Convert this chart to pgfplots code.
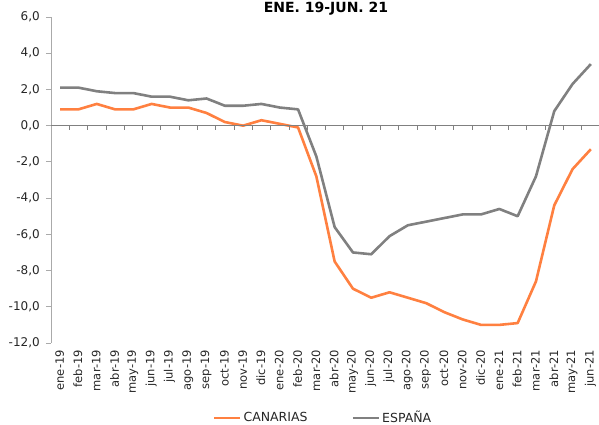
\documentclass[border=0pt]{standalone}
\usepackage{fontspec}
\setmainfont{DejaVu Sans}
\usepackage{pgfplots}
\pgfplotsset{compat=1.18}
\definecolor{canorange}{RGB}{255,128,64}
\definecolor{espgray}{RGB}{128,128,128}
\definecolor{axgray}{RGB}{170,170,170}
\begin{document}
\begin{tikzpicture}
\begin{axis}[
  at={(0pt,0pt)}, anchor=south west,
  scale only axis, width=549pt, height=326pt,
  xmin=-0.5, xmax=29.5, ymin=-12, ymax=6,
  axis x line=none,
  axis y line*=left,
  y axis line style={draw=axgray, line width=0.8pt},
  ytick={-12,-10,...,6},
  yticklabels={{-12,0},{-10,0},{-8,0},{-6,0},{-4,0},{-2,0},{0,0},{2,0},{4,0},{6,0}},
  ytick style={draw=axgray, line width=0.8pt},
  tick align=outside,
  major tick length=5pt,
  yticklabel style={font=\fontsize{12}{14}\selectfont, text=black!85, anchor=east, inner sep=0pt, xshift=-6pt},
  legend style={at={(axis description cs:0.295,-0.2295)}, anchor=west, draw=none, fill=none,
    inner sep=0pt, outer sep=0pt,
    font=\fontsize{12.5}{14}\selectfont, text=black!85, legend columns=2,
    nodes={inner xsep=2pt, inner ysep=0pt},
    /tikz/every even column/.append style={column sep=42pt}},
  legend image code/.code={\draw[#1] (0pt,0pt) -- (26pt,0pt);},
  clip=false,
]
\addplot[canorange, line width=2.6pt, line join=round] coordinates {
(0,0.9) (1,0.9) (2,1.2) (3,0.9) (4,0.9) (5,1.2) (6,1.0) (7,1.0) (8,0.7) (9,0.2)
(10,0.0) (11,0.3) (12,0.1) (13,-0.1) (14,-2.8) (15,-7.5) (16,-9.0) (17,-9.5) (18,-9.2) (19,-9.5)
(20,-9.8) (21,-10.3) (22,-10.7) (23,-11.0) (24,-11.0) (25,-10.9) (26,-8.6) (27,-4.4) (28,-2.4) (29,-1.3)};
\addlegendentry{CANARIAS}
\addplot[espgray, line width=2.6pt, line join=round] coordinates {
(0,2.1) (1,2.1) (2,1.9) (3,1.8) (4,1.8) (5,1.6) (6,1.6) (7,1.4) (8,1.5) (9,1.1)
(10,1.1) (11,1.2) (12,1.0) (13,0.9) (14,-1.7) (15,-5.6) (16,-7.0) (17,-7.1) (18,-6.1) (19,-5.5)
(20,-5.3) (21,-5.1) (22,-4.9) (23,-4.9) (24,-4.6) (25,-5.0) (26,-2.8) (27,0.8) (28,2.3) (29,3.4)};
\addlegendentry{ESPAÑA}
\end{axis}
% zero axis with tick marks between categories
\begin{axis}[
  at={(0pt,0pt)}, anchor=south west,
  scale only axis, width=549pt, height=326pt,
  xmin=-0.5, xmax=29.5, ymin=-12, ymax=6,
  axis y line=none,
  axis x line*=middle,
  x axis line style={draw=espgray, line width=0.8pt, -},
  xtick={0.5,1.5,...,28.5},
  xticklabels={},
  xtick style={draw=espgray, line width=0.8pt},
  tick align=outside,
  major tick length=4pt,
]
\end{axis}
% category labels at the bottom
\begin{axis}[
  at={(0pt,0pt)}, anchor=south west,
  scale only axis, width=549pt, height=326pt,
  xmin=-0.5, xmax=29.5, ymin=-12, ymax=6,
  axis y line=none, axis x line*=bottom,
  x axis line style={draw=none},
  xtick={0,...,29},
  xticklabels={ene-19,feb-19,mar-19,abr-19,may-19,jun-19,jul-19,ago-19,sep-19,oct-19,nov-19,dic-19,ene-20,feb-20,mar-20,abr-20,may-20,jun-20,jul-20,ago-20,sep-20,oct-20,nov-20,dic-20,ene-21,feb-21,mar-21,abr-21,may-21,jun-21},
  major tick length=0pt,
  xticklabel style={font=\fontsize{11.5}{13}\selectfont, text=black!85, rotate=90, anchor=east, inner sep=0pt, xshift=-7pt, yshift=0.5pt},
]
\end{axis}
\node[anchor=base, font=\fontsize{14}{16}\selectfont\bfseries] at (275pt,330.5pt) {ENE. 19-JUN. 21};
\pgfresetboundingbox
\path (-51pt,-82pt) rectangle (548pt,343pt);
\end{tikzpicture}
\end{document}
